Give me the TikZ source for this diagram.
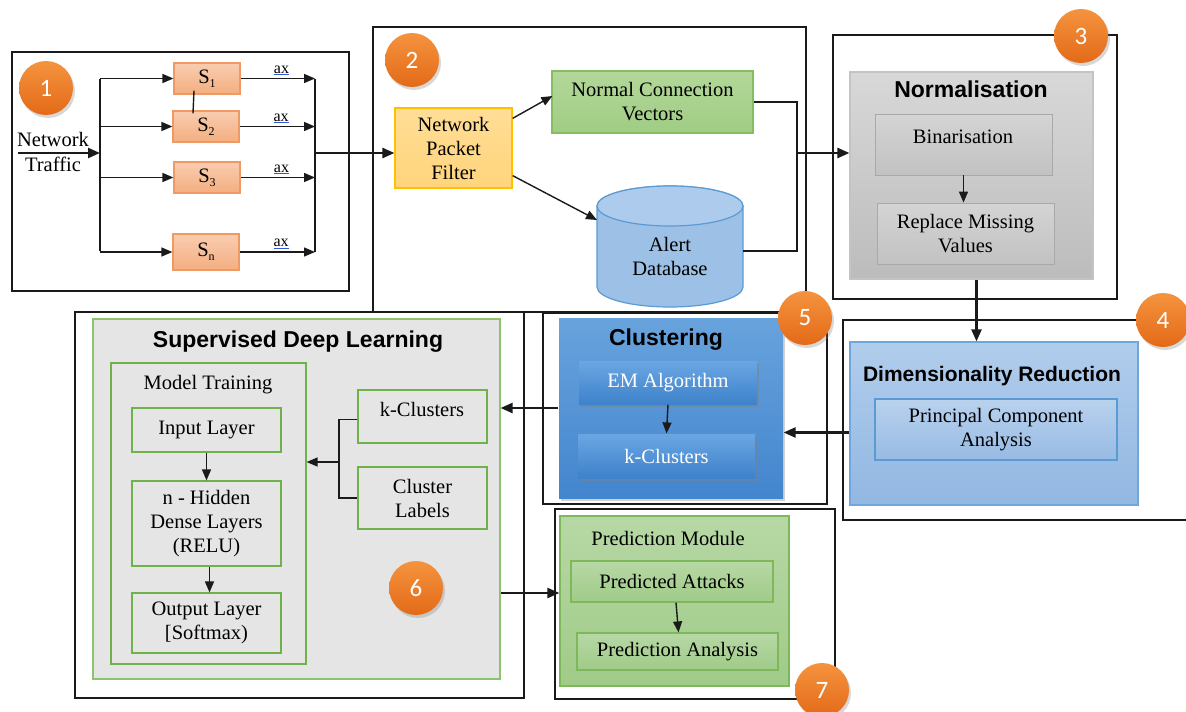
\documentclass[tikz,border=0pt]{standalone}
\usepackage{fontspec}
\setmainfont{Liberation Serif}
\newfontfamily\hdfont{Liberation Sans}
\newfontfamily\numfont{Carlito}
\usetikzlibrary{arrows.meta,fit,shadows,calc}

\definecolor{frameC}{HTML}{1A1A1A}
\definecolor{salL}{HTML}{F9CDB0}
\definecolor{salD}{HTML}{F3AE80}
\definecolor{salB}{HTML}{EF9A62}
\definecolor{npfL}{HTML}{FFDE96}
\definecolor{npfD}{HTML}{FFD47C}
\definecolor{npfB}{HTML}{FFC000}
\definecolor{ncvL}{HTML}{B3D89A}
\definecolor{ncvD}{HTML}{A0CC84}
\definecolor{ncvB}{HTML}{84BE60}
\definecolor{dbF}{HTML}{9CC0E6}
\definecolor{dbT}{HTML}{ADCBEC}
\definecolor{dbB}{HTML}{5B9BD5}
\definecolor{grL}{HTML}{D8D8D8}
\definecolor{grD}{HTML}{BCBCBC}
\definecolor{grB}{HTML}{C4C4C4}
\definecolor{giL}{HTML}{D4D4D4}
\definecolor{giD}{HTML}{C2C2C2}
\definecolor{giB}{HTML}{A9A9A9}
\definecolor{dimL}{HTML}{B1CDEC}
\definecolor{dimD}{HTML}{92B7E2}
\definecolor{dimB}{HTML}{6FA6DE}
\definecolor{cluL}{HTML}{68A3DD}
\definecolor{cluD}{HTML}{4385CE}
\definecolor{ciL}{HTML}{6AA6E2}
\definecolor{ciD}{HTML}{3E82CB}
\definecolor{sdlF}{HTML}{E5E5E5}
\definecolor{sdlB}{HTML}{8DC46B}
\definecolor{inB}{HTML}{6FB14A}
\definecolor{pmL}{HTML}{B7D8A5}
\definecolor{pmD}{HTML}{A0CB88}
\definecolor{pmB}{HTML}{7EB85B}
\definecolor{orL}{HTML}{F5933F}
\definecolor{orD}{HTML}{E36A17}
\definecolor{axB}{HTML}{3355DD}

\newcommand\mysub[1]{\raisebox{-0.45ex}{\fontsize{12}{12}\selectfont #1}}
\newcommand\axtext{\makebox[0pt][l]{\textcolor{axB}{\rule[-2.2pt]{15pt}{0.9pt}}}ax}

\begin{document}
\begin{tikzpicture}[x=1pt,y=-1pt,
  tx/.style={font=\fontsize{20.5}{24}\selectfont, align=center, inner sep=0pt},
  hd/.style={font=\hdfont\bfseries\fontsize{23}{26}\selectfont, inner sep=0pt},
  frame/.style={draw=frameC, line width=1.6pt, inner sep=0pt},
  bx/.style={inner sep=0pt, line width=1.2pt, align=center, font=\fontsize{20.5}{24}\selectfont},
  sz/.style 2 args={minimum width=#1pt, minimum height=#2pt},
  sbox/.style={bx, draw=salB, top color=salL, bottom color=salD},
  npfbox/.style={bx, draw=npfB, top color=npfL, bottom color=npfD},
  ncvbox/.style={bx, draw=ncvB, top color=ncvL, bottom color=ncvD},
  graybig/.style={bx, draw=grB, top color=grL, bottom color=grD},
  grayin/.style={bx, draw=giB, line width=0.8pt, top color=giL, bottom color=giD},
  dimbox/.style={bx, draw=dimB, top color=dimL, bottom color=dimD},
  pcabox/.style={bx, draw=dbB, top color=dimL!90!white, bottom color=dimD!95!white},
  clubox/.style={bx, draw=none, top color=cluL, bottom color=cluD, drop shadow={opacity=0.35, shadow xshift=2pt, shadow yshift=-3pt}},
  cluin/.style={bx, draw=none, top color=ciL, bottom color=ciD, text=white, drop shadow={opacity=0.45, shadow xshift=1.5pt, shadow yshift=-3pt}},
  sdlbox/.style={bx, draw=sdlB, fill=sdlF},
  inbox/.style={bx, draw=inB},
  pmbox/.style={bx, draw=pmB, top color=pmL, bottom color=pmD},
  circ/.style={circle, minimum size=54pt, inner sep=0pt, top color=orL, bottom color=orD, text=white, font=\numfont\fontsize{25}{25}\selectfont, drop shadow={opacity=0.3, shadow xshift=2pt, shadow yshift=-3pt}},
  axl/.style={font=\fontsize{16}{16}\selectfont, inner sep=0pt},
  ln/.style={draw=frameC, line width=1.4pt},
  lnB/.style={draw=frameC, line width=2.4pt},
  arrS/.style={ln, -{Triangle[length=11pt,width=9pt]}},
  arrB/.style={lnB, -{Triangle[length=12pt,width=10pt]}}
]
\useasboundingbox (0,0) rectangle (1186,712);
\fill[white] (0,0) rectangle (1186,712);

% ---------- frames ----------
\node[frame, fit={(12,52)(349,291)}] (f1) {};
\node[frame, fit={(373,27)(806,312)}] (f2) {};
\node[frame, fit={(833,35)(1117,299)}] (f3) {};
\node[frame, fit={(843,320)(1200,520)}] (f4) {};
\node[frame, fit={(543,313)(827,504)}] (f5) {};
\node[frame, fit={(75,312)(524,698)}] (f6) {};
\node[frame, fit={(555,509)(835,699)}] (f7) {};

% ---------- module 1 ----------
\node[tx] (ntA) at (53,139) {Network};
\node[tx] (ntB) at (53,164) {Traffic};
\coordinate (ntS) at (18,153);
\coordinate (busM) at (100,153);
\coordinate (busT) at (100,79);
\coordinate (busB) at (100,251);
\node[sbox, sz={66}{31}] (s1) at (207,78.5) {S\mysub{1}};
\node[sbox, sz={66}{31}] (s2) at (206,126.5) {S\mysub{2}};
\node[sbox, sz={66}{31}] (s3) at (207,177.5) {S\mysub{3}};
\node[sbox, sz={66}{36}] (sn) at (206,252) {S\mysub{n}};
\draw[arrB] (ntS) -- (busM);
\draw[ln] (busT) -- (busB);
\foreach \s in {s1,s2,s3,sn} {\draw[arrS] (\s.west -| busT) -- (\s.west);}
\draw[ln] ($(s1.south)+(-13,-4)$) -- ($(s2.north)+(-13,3)$);
\coordinate (rbT) at (315,79);
\coordinate (rbB) at (315,252);
\coordinate (rbM) at (315,153);
\foreach \s/\n in {s1/ax1,s2/ax2,s3/ax3,sn/ax4} {\draw[arrS] (\s.east) -- node[axl, above=2.5pt, pos=0.55] (\n) {\axtext} (\s.east -| rbT);}
\draw[ln] (rbT) -- (rbB);

% ---------- module 2 ----------
\node[npfbox, sz={117}{80}] (npf) at (453.5,148) {Network\\Packet\\Filter};
\node[ncvbox, sz={201}{62}] (ncv) at (652.5,102) {Normal Connection\\Vectors};
\filldraw[fill=dbF, draw=dbB, line width=1.2pt] (597,206) -- (597,287) arc[start angle=180, end angle=0, x radius=73, y radius=20] -- (743,206) arc[start angle=0, end angle=-180, x radius=73, y radius=20] -- cycle;
\filldraw[fill=dbT, draw=dbB, line width=1.2pt] (670,206) ellipse [x radius=73, y radius=20];
\node[tx] (db) at (670,256) {Alert\\Database};
\coordinate (dbin) at (597,220);
\coordinate (dbr) at (743,251);
\coordinate (j2) at (797,153);
\draw[arrB] (rbM) -- (rbM -| npf.west);
\draw[arrS] ($(npf.north east)+(0,11)$) -- ($(ncv.west)+(1,-6)$);
\draw[arrS] ($(npf.south east)+(0,-13)$) -- (dbin);
\draw[ln] (ncv.east) -| (dbr -| j2) -- (dbr);

% ---------- module 3 ----------
\node[graybig, fit={(850,72)(1093,279)}] (norm) {};
\node[hd] (normT) at (971,89) {Normalisation};
\node[grayin, fit={(875,114)(1052,175)}] (bin) {};
\node[tx] (binT) at (963,137) {Binarisation};
\node[grayin, sz={177}{61}] (rep) at (965.5,233.5) {Replace Missing\\Values};
\draw[arrB] (j2) -- (j2 -| norm.west);
\draw[arrS] (bin.south) -- (bin.south |- rep.north);

% ---------- module 4 ----------
\node[dimbox, fit={(850,342)(1138,505)}] (dim) {};
\node[hd, font=\hdfont\bfseries\fontsize{21}{24}\selectfont] (dimT) at (992,376) {Dimensionality Reduction};
\node[pcabox, sz={242}{61}] (pca) at (996,429.5) {Principal Component\\Analysis};
\coordinate (normS) at ($(norm.south)+(5,0)$);
\draw[arrB] (normS) -- (normS |- dim.north);

% ---------- module 5 ----------
\node[clubox, fit={(559,318)(783,498)}] (clu) {};
\node[hd] (cluT) at (666,340) {Clustering};
\node[cluin, sz={178}{43}] (em) at (668,382.5) {EM Algorithm};
\node[cluin, sz={177}{44}] (kc) at (666.5,456) {k-Clusters};
\draw[arrS] (em.south) -- (kc.north);
\coordinate (dimL) at ($(dim.west)+(0,9)$);
\draw[arrB] (dimL) -- (dimL -| clu.east);

% ---------- module 6 ----------
\node[sdlbox, fit={(93,319)(500,679)}] (sdl) {};
\node[hd] (sdlT) at (298,342) {Supervised Deep Learning};
\node[inbox, fit={(111,363)(306,664)}] (mt) {};
\node[tx] (mtT) at (208,385) {Model Training};
\node[inbox, sz={149}{44}] (inp) at (206.5,430) {Input Layer};
\node[inbox, sz={149}{85}] (hid) at (206.5,523.5) {n - Hidden\\Dense Layers\\(RELU)};
\node[inbox, sz={149}{60}] (outl) at (206.5,623) {Output Layer\\{[}Softmax)};
\node[inbox, fit={(358,390)(487,443)}] (kc2) {};
\node[tx] (kc2T) at (422,409) {k-Clusters};
\node[inbox, sz={129}{62}] (cl) at (422.5,498) {Cluster\\Labels};
\draw[arrS] (inp.south) -- (inp.south |- hid.north);
\draw[arrS] ($(hid.south)+(3,0)$) -- ($(outl.north)+(3,0)$);
\coordinate (jm) at (339,462);
\draw[ln] ($(kc2.west)+(0,3)$) -| (jm) |- (cl.west);
\draw[arrS] (jm) -- (jm -| mt.east);
\draw[arrB] (clu.west) -- (clu.west -| sdl.east);

% ---------- module 7 ----------
\node[pmbox, fit={(560,516)(789,686)}] (pm) {};
\node[tx] (pmT) at (668,538) {Prediction Module};
\node[pmbox, sz={202}{41}] (pa) at (672,581.5) {Predicted Attacks};
\node[pmbox, sz={201}{37}] (pan) at (677.5,651.5) {Prediction Analysis};
\draw[arrS] ($(pa.south)+(4,0)$) -- ($(pan.north)+(1,0)$);
\coordinate (sdlO) at ($(sdl.east)+(0,94)$);
\draw[arrB] (sdlO) -- (sdlO -| pm.west);

% ---------- numbered circles ----------
\node[circ] (c1) at (46,88) {1};
\node[circ] (c2) at (412,60) {2};
\node[circ] (c3) at (1081,36) {3};
\node[circ] (c4) at (1163,320) {4};
\node[circ] (c5) at (805,318) {5};
\node[circ] (c6) at (416,588) {6};
\node[circ] (c7) at (822,690) {7};
\end{tikzpicture}
\end{document}
